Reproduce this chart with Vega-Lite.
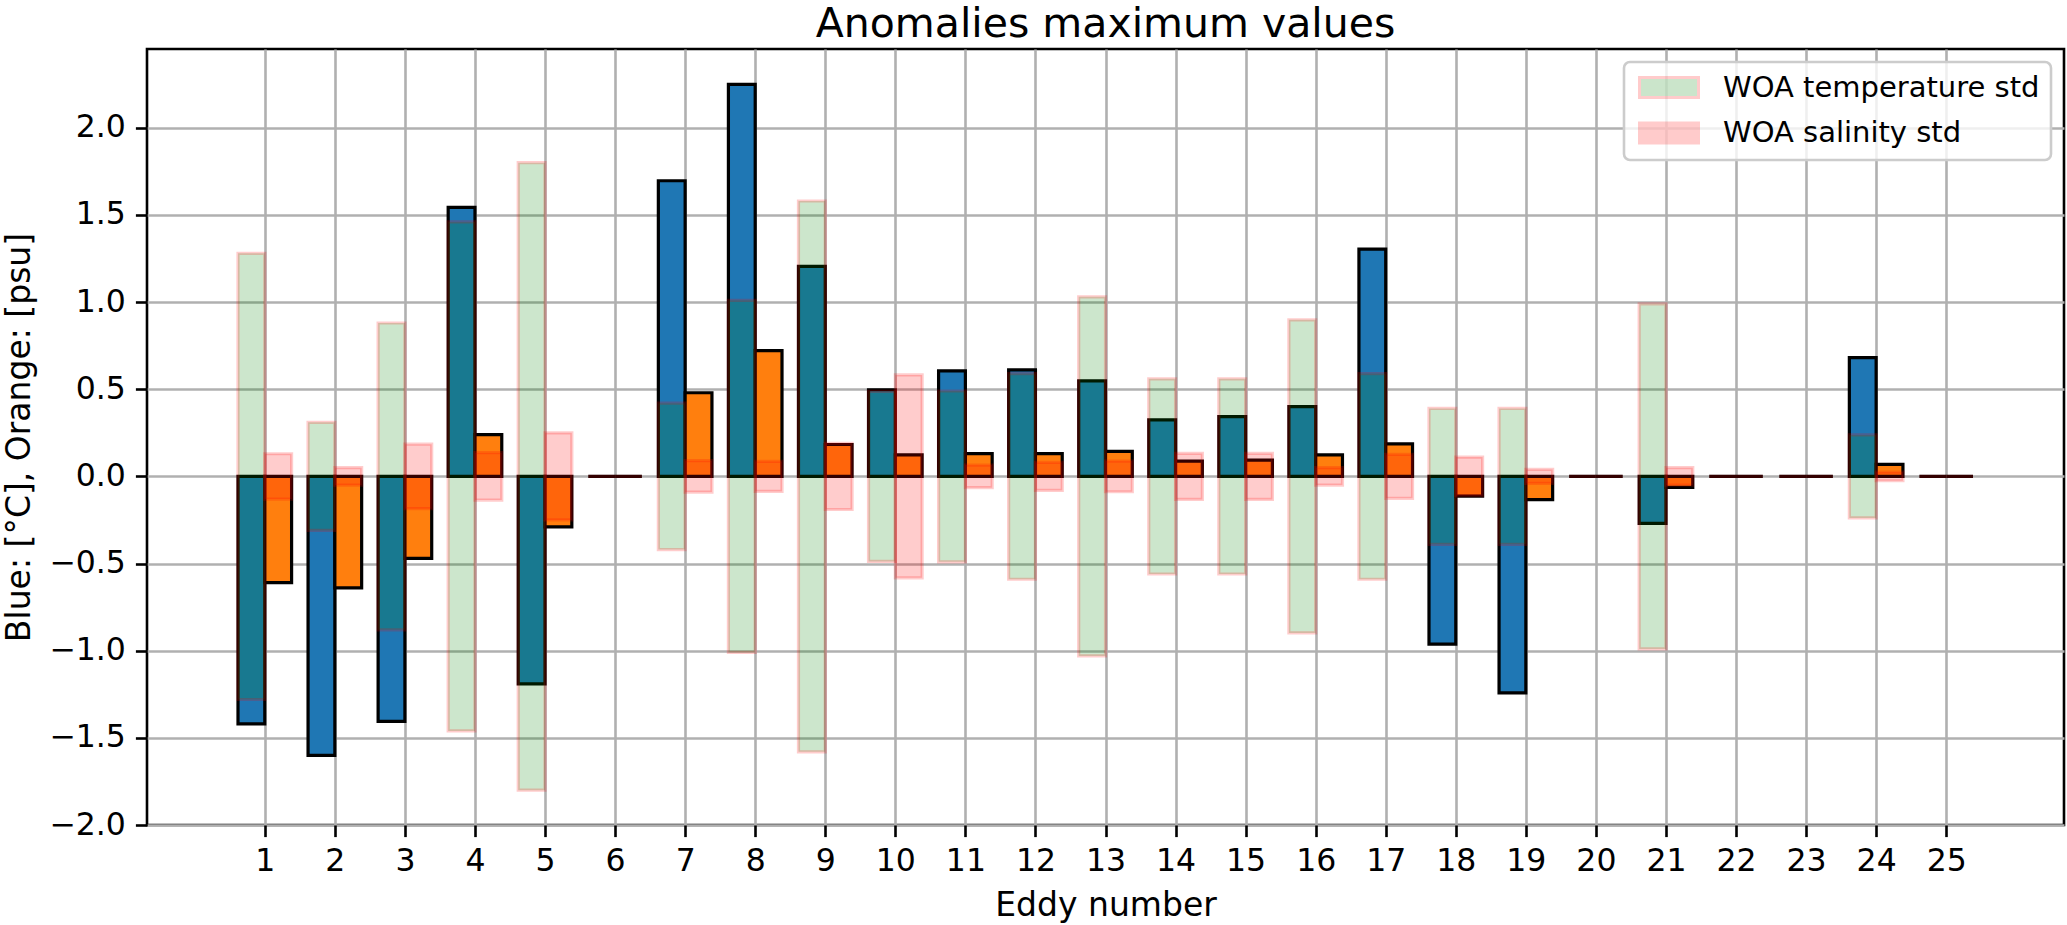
{
  "$schema": "https://vega.github.io/schema/vega-lite/v6.json",
  "width": 1917,
  "height": 776,
  "autosize": {"type": "none"},
  "padding": {"left": 147, "top": 49, "right": 3, "bottom": 100},
  "background": "white",
  "title": {"text": "Anomalies maximum values", "fontSize": 41, "fontWeight": "normal", "color": "black", "anchor": "middle", "offset": 3},
  "data": {"values": [
    {"eddy": 1, "var": "T", "anom": -1.42, "lo": -1.28, "hi": 1.28},
    {"eddy": 2, "var": "T", "anom": -1.6, "lo": -0.31, "hi": 0.31},
    {"eddy": 3, "var": "T", "anom": -1.405, "lo": -0.88, "hi": 0.88},
    {"eddy": 4, "var": "T", "anom": 1.543, "lo": -1.46, "hi": 1.46},
    {"eddy": 5, "var": "T", "anom": -1.19, "lo": -1.8, "hi": 1.8},
    {"eddy": 6, "var": "T", "anom": 0, "lo": 0, "hi": 0},
    {"eddy": 7, "var": "T", "anom": 1.696, "lo": -0.42, "hi": 0.42},
    {"eddy": 8, "var": "T", "anom": 2.249, "lo": -1.01, "hi": 1.01},
    {"eddy": 9, "var": "T", "anom": 1.205, "lo": -1.58, "hi": 1.58},
    {"eddy": 10, "var": "T", "anom": 0.497, "lo": -0.488, "hi": 0.488},
    {"eddy": 11, "var": "T", "anom": 0.605, "lo": -0.49, "hi": 0.49},
    {"eddy": 12, "var": "T", "anom": 0.611, "lo": -0.59, "hi": 0.59},
    {"eddy": 13, "var": "T", "anom": 0.548, "lo": -1.03, "hi": 1.03},
    {"eddy": 14, "var": "T", "anom": 0.324, "lo": -0.56, "hi": 0.56},
    {"eddy": 15, "var": "T", "anom": 0.343, "lo": -0.56, "hi": 0.56},
    {"eddy": 16, "var": "T", "anom": 0.4, "lo": -0.898, "hi": 0.898},
    {"eddy": 17, "var": "T", "anom": 1.304, "lo": -0.59, "hi": 0.59},
    {"eddy": 18, "var": "T", "anom": -0.962, "lo": -0.39, "hi": 0.39},
    {"eddy": 19, "var": "T", "anom": -1.242, "lo": -0.39, "hi": 0.39},
    {"eddy": 20, "var": "T", "anom": 0, "lo": 0, "hi": 0},
    {"eddy": 21, "var": "T", "anom": -0.269, "lo": -0.99, "hi": 0.99},
    {"eddy": 22, "var": "T", "anom": 0, "lo": 0, "hi": 0},
    {"eddy": 23, "var": "T", "anom": 0, "lo": 0, "hi": 0},
    {"eddy": 24, "var": "T", "anom": 0.681, "lo": -0.238, "hi": 0.238},
    {"eddy": 25, "var": "T", "anom": 0, "lo": 0, "hi": 0},
    {"eddy": 1, "var": "S", "anom": -0.61, "lo": -0.13, "hi": 0.13},
    {"eddy": 2, "var": "S", "anom": -0.64, "lo": -0.05, "hi": 0.05},
    {"eddy": 3, "var": "S", "anom": -0.47, "lo": -0.185, "hi": 0.185},
    {"eddy": 4, "var": "S", "anom": 0.24, "lo": -0.136, "hi": 0.136},
    {"eddy": 5, "var": "S", "anom": -0.29, "lo": -0.25, "hi": 0.25},
    {"eddy": 6, "var": "S", "anom": 0, "lo": 0, "hi": 0},
    {"eddy": 7, "var": "S", "anom": 0.48, "lo": -0.09, "hi": 0.09},
    {"eddy": 8, "var": "S", "anom": 0.721, "lo": -0.086, "hi": 0.086},
    {"eddy": 9, "var": "S", "anom": 0.183, "lo": -0.19, "hi": 0.19},
    {"eddy": 10, "var": "S", "anom": 0.123, "lo": -0.582, "hi": 0.582},
    {"eddy": 11, "var": "S", "anom": 0.131, "lo": -0.065, "hi": 0.065},
    {"eddy": 12, "var": "S", "anom": 0.131, "lo": -0.08, "hi": 0.08},
    {"eddy": 13, "var": "S", "anom": 0.143, "lo": -0.088, "hi": 0.088},
    {"eddy": 14, "var": "S", "anom": 0.088, "lo": -0.132, "hi": 0.132},
    {"eddy": 15, "var": "S", "anom": 0.093, "lo": -0.132, "hi": 0.132},
    {"eddy": 16, "var": "S", "anom": 0.124, "lo": -0.05, "hi": 0.05},
    {"eddy": 17, "var": "S", "anom": 0.187, "lo": -0.126, "hi": 0.126},
    {"eddy": 18, "var": "S", "anom": -0.113, "lo": -0.111, "hi": 0.111},
    {"eddy": 19, "var": "S", "anom": -0.133, "lo": -0.04, "hi": 0.04},
    {"eddy": 20, "var": "S", "anom": 0, "lo": 0, "hi": 0},
    {"eddy": 21, "var": "S", "anom": -0.063, "lo": -0.05, "hi": 0.05},
    {"eddy": 22, "var": "S", "anom": 0, "lo": 0, "hi": 0},
    {"eddy": 23, "var": "S", "anom": 0, "lo": 0, "hi": 0},
    {"eddy": 24, "var": "S", "anom": 0.069, "lo": -0.025, "hi": 0.025},
    {"eddy": 25, "var": "S", "anom": 0, "lo": 0, "hi": 0}
  ]},
  "encoding": {
    "x": {
      "field": "eddy", "type": "quantitative",
      "scale": {"domain": [-0.61, 26.61], "nice": false, "zero": false},
      "axis": {"title": "Eddy number", "values": [1,2,3,4,5,6,7,8,9,10,11,12,13,14,15,16,17,18,19,20,21,22,23,24,25], "format": "d", "labelPadding": 9, "titlePadding": 12}
    }
  },
  "layer": [
    {
      "transform": [{"filter": "datum.var === 'T'"}],
      "mark": {"type": "bar", "width": 26.8, "xOffset": -13.4, "fill": "#1f77b4", "stroke": "black", "strokeWidth": 3.2},
      "encoding": {
        "y": {"field": "anom", "type": "quantitative", "title": "Blue: [°C], Orange: [psu]",
          "scale": {"domain": [-2, 2.452], "nice": false, "zero": false},
          "axis": {"values": [-2, -1.5, -1, -0.5, 0, 0.5, 1, 1.5, 2], "format": ".1f", "labelPadding": 10, "titlePadding": 12}},
        "y2": {"datum": 0}
      }
    },
    {
      "transform": [{"filter": "datum.var === 'S'"}],
      "mark": {"type": "bar", "width": 26.8, "xOffset": 13.4, "fill": "#ff7f0e", "stroke": "black", "strokeWidth": 3.2},
      "encoding": {
        "y": {"field": "anom", "type": "quantitative", "title": "Blue: [°C], Orange: [psu]"},
        "y2": {"datum": 0}
      }
    },
    {
      "transform": [{"filter": "datum.var === 'T'"}],
      "mark": {"type": "bar", "width": 26.8, "xOffset": -13.4, "fillOpacity": 0.2, "stroke": "red", "strokeOpacity": 0.2, "strokeWidth": 3.2},
      "encoding": {
        "y": {"field": "hi", "type": "quantitative", "title": "Blue: [°C], Orange: [psu]"},
        "y2": {"field": "lo"},
        "fill": {"datum": "WOA temperature std", "type": "nominal",
          "scale": {"domain": ["WOA temperature std", "WOA salinity std"], "range": ["green", "red"]},
          "legend": {
            "title": null, "orient": "top-right", "offset": 13, "padding": 11,
            "fillColor": "rgba(255,255,255,0.8)", "strokeColor": "#cccccc", "cornerRadius": 6,
            "labelFontSize": 29, "labelColor": "black", "labelOffset": 59, "labelLimit": 800,
            "symbolType": "M-1,-1H4.9V1H-1Z", "symbolSize": 400, "rowPadding": 12.5,
            "symbolOpacity": 0.2, "symbolStrokeColor": "red", "symbolStrokeWidth": 3,
            "encode": {
              "legend": {"update": {"strokeWidth": {"value": 2.6}}}
            }
          }}
      }
    },
    {
      "transform": [{"filter": "datum.var === 'S'"}],
      "mark": {"type": "bar", "width": 26.8, "xOffset": 13.4, "fillOpacity": 0.2, "stroke": "red", "strokeOpacity": 0.2, "strokeWidth": 3.2},
      "encoding": {
        "y": {"field": "hi", "type": "quantitative", "title": "Blue: [°C], Orange: [psu]"},
        "y2": {"field": "lo"},
        "fill": {"datum": "WOA salinity std", "type": "nominal"}
      }
    }
  ],
  "config": {
    "font": "DejaVu Sans",
    "view": {"stroke": "black", "strokeWidth": 2.6},
    "axis": {
      "grid": true, "gridColor": "#b0b0b0", "gridWidth": 2.6, "gridOpacity": 1,
      "domain": false, "tickColor": "black", "tickWidth": 2.6, "tickSize": 11.6,
      "labelFontSize": 31.5, "labelColor": "black", "labelFlush": false, "labelOverlap": false,
      "titleFontSize": 33, "titleFontWeight": "normal", "titleColor": "black"
    }
  }
}
